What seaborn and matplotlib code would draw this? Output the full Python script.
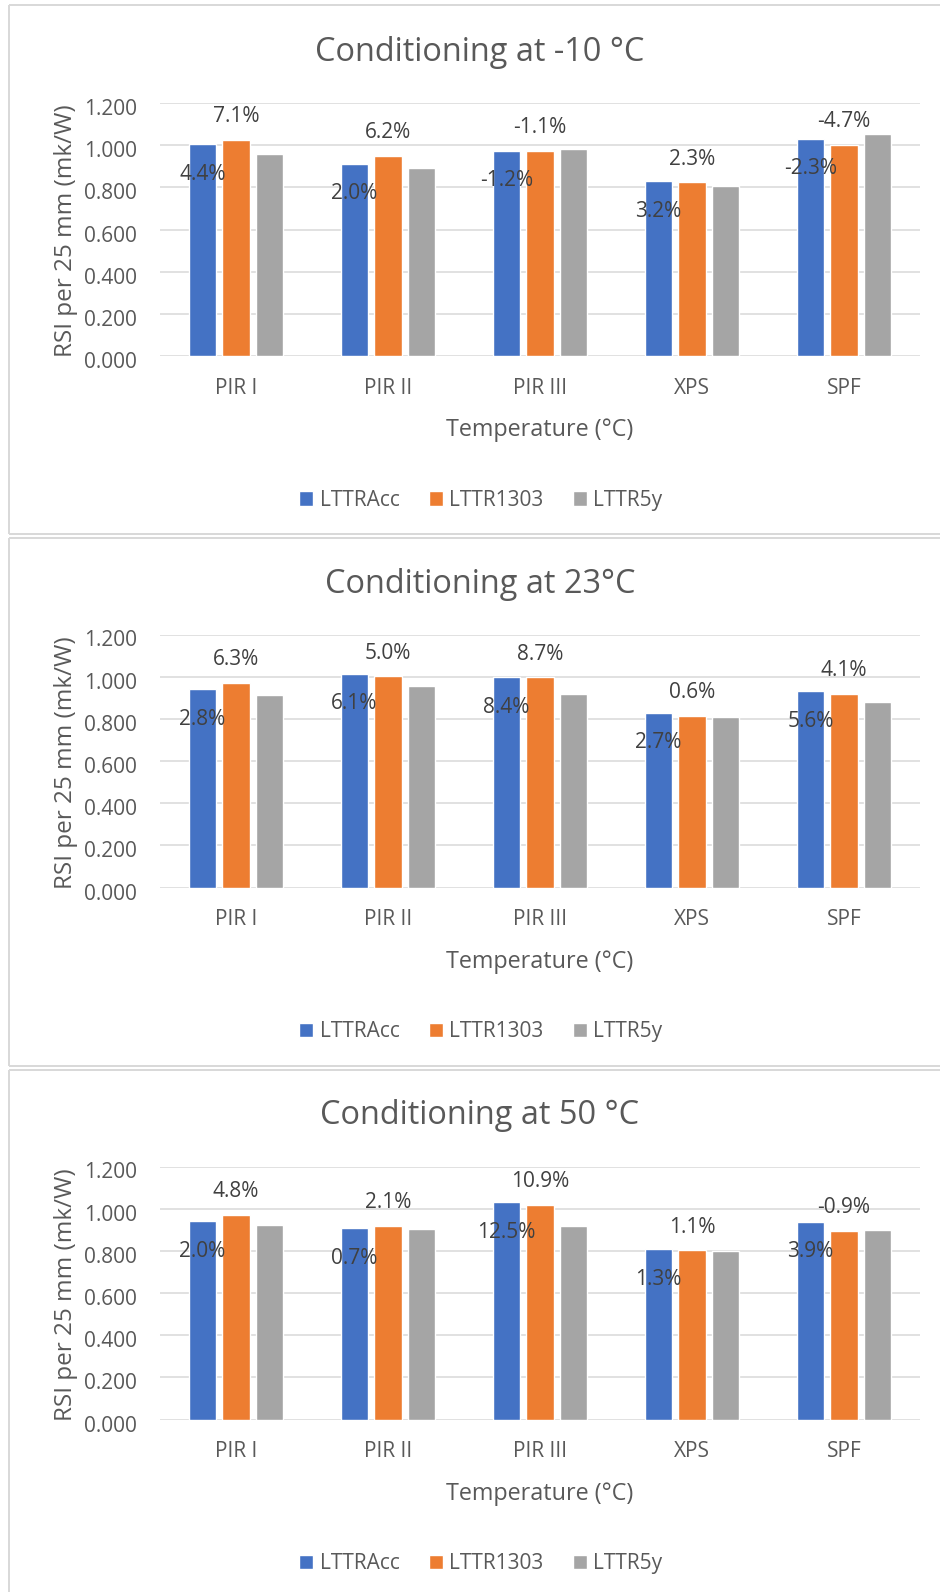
import numpy as np
import pandas as pd
import matplotlib
matplotlib.use("Agg")
import matplotlib.pyplot as plt
from matplotlib.lines import Line2D
from matplotlib.ticker import FormatStrFormatter
from matplotlib.transforms import ScaledTranslation
import seaborn as sns

# ---- data -------------------------------------------------------------
materials = ["PIR I", "PIR II", "PIR III", "XPS", "SPF"]
series = ["LTTRAcc", "LTTR1303", "LTTR5y"]
colors = ["#4472C4", "#ED7D31", "#A5A5A5"]

titles = ["Conditioning at -10 °C", "Conditioning at 23°C", "Conditioning at 50 °C"]

# RSI per 25 mm (mK/W) after conditioning at -10 °C
m10_lttracc = [1.004, 0.912, 0.973, 0.830, 1.030]
m10_lttr1303 = [1.025, 0.950, 0.973, 0.825, 1.002]
m10_lttr5y = [0.959, 0.893, 0.983, 0.807, 1.054]
m10_upper = ["7.1%", "6.2%", "-1.1%", "2.3%", "-4.7%"]
m10_lower = ["4.4%", "2.0%", "-1.2%", "3.2%", "-2.3%"]

# RSI per 25 mm (mK/W) after conditioning at 23 °C
p23_lttracc = [0.941, 1.013, 0.998, 0.829, 0.931]
p23_lttr1303 = [0.971, 1.003, 0.998, 0.814, 0.918]
p23_lttr5y = [0.913, 0.956, 0.918, 0.809, 0.880]
p23_upper = ["6.3%", "5.0%", "8.7%", "0.6%", "4.1%"]
p23_lower = ["2.8%", "6.1%", "8.4%", "2.7%", "5.6%"]

# RSI per 25 mm (mK/W) after conditioning at 50 °C
p50_lttracc = [0.941, 0.908, 1.031, 0.808, 0.938]
p50_lttr1303 = [0.970, 0.918, 1.018, 0.803, 0.895]
p50_lttr5y = [0.923, 0.903, 0.918, 0.799, 0.900]
p50_upper = ["4.8%", "2.1%", "10.9%", "1.1%", "-0.9%"]
p50_lower = ["2.0%", "0.7%", "12.5%", "1.3%", "3.9%"]

panels = [
    (titles[0], [m10_lttracc, m10_lttr1303, m10_lttr5y], m10_upper, m10_lower),
    (titles[1], [p23_lttracc, p23_lttr1303, p23_lttr5y], p23_upper, p23_lower),
    (titles[2], [p50_lttracc, p50_lttr1303, p50_lttr5y], p50_upper, p50_lower),
]

# ---- styling ----------------------------------------------------------
sns.set_style("white")
plt.rcParams["font.family"] = ["Open Sans", "DejaVu Sans"]

W, H = 940, 1592
TEXT = "#595959"
LABEL = "#404040"
GRID = "#D9D9D9"

fig = plt.figure(figsize=(W / 100, H / 100), dpi=100)
fig.patch.set_facecolor("white")


def fx(px):
    return px / W


def fy(py):
    return 1 - py / H


shifts = [0, 531.5, 1063.5]
tick_shift = ScaledTranslation(0, -4 / 100, fig.dpi_scale_trans)

for (title, values, upper, lower), sh in zip(panels, shifts):
    top = 103 + sh
    ax = fig.add_axes([fx(160), fy(top + 253), fx(760), 253 / H])

    df = pd.DataFrame({
        "Material": materials * len(series),
        "Series": np.repeat(series, len(materials)),
        "RSI": np.concatenate(values),
    })
    sns.barplot(data=df, x="Material", y="RSI", hue="Series",
                order=materials, hue_order=series, palette=colors,
                saturation=1, width=0.66, gap=0.19, errorbar=None,
                legend=False, ax=ax)

    ax.set_xlim(-0.5, len(materials) - 0.5)
    ax.set_ylim(0, 1.2)
    ax.set_yticks(np.arange(0, 1.201, 0.2))
    ax.yaxis.set_major_formatter(FormatStrFormatter("%.3f"))
    ax.grid(axis="y", color=GRID, lw=1.1)
    ax.grid(axis="x", visible=False)
    ax.set_axisbelow(True)
    for s in ax.spines.values():
        s.set_visible(False)
    ax.tick_params(axis="both", length=0, labelsize=15, labelcolor=TEXT)
    ax.tick_params(axis="x", pad=15.5)
    ax.tick_params(axis="y", pad=16.8)
    for lab in ax.get_yticklabels():
        lab.set_transform(lab.get_transform() + tick_shift)
    ax.set_xlabel("")
    ax.set_ylabel("")

    # percentage labels
    for bar, txt in zip(ax.containers[1], upper):
        ax.annotate(txt, (bar.get_x() + bar.get_width() / 2, bar.get_height()),
                    xytext=(0, 23), textcoords="offset pixels",
                    ha="center", va="center", fontsize=15, color=LABEL,
                    annotation_clip=False)
    for bar, txt in zip(ax.containers[0], lower):
        ax.annotate(txt, (bar.get_x() + bar.get_width() / 2, bar.get_height()),
                    xytext=(0, -30), textcoords="offset pixels",
                    ha="center", va="center", fontsize=15, color=LABEL,
                    annotation_clip=False)

    fig.text(fx(480), fy(61 + sh), title, ha="center", va="baseline",
             fontsize=23.4, color=TEXT)
    fig.text(fx(540), fy(436 + sh), "Temperature (°C)", ha="center",
             va="baseline", fontsize=16.8, color=TEXT)
    fig.text(fx(66), fy(231 + sh), "RSI per 25 mm (mk/W)", rotation=90,
             ha="center", va="center", fontsize=17.5, color=TEXT)

    ax.legend(handles=list(ax.containers), labels=series, loc="center",
              bbox_to_anchor=(fx(480.7), fy(500.3 + sh)),
              bbox_transform=fig.transFigure, ncol=3, frameon=False,
              fontsize=15, labelcolor=TEXT, handlelength=0.68,
              handleheight=0.68, handletextpad=0.3, columnspacing=1.4,
              borderpad=0, borderaxespad=0)

# chart-area borders
border_kw = dict(transform=fig.transFigure, color=GRID, lw=1.44,
                 solid_capstyle="butt")
frames = [(5.2, 533.7), (537.7, 1065.7), (1069.7, H + 5)]
for t, b in frames:
    fig.add_artist(Line2D([fx(9), 1.01], [fy(t), fy(t)], **border_kw))
    fig.add_artist(Line2D([fx(9), 1.01], [fy(b), fy(b)], **border_kw))
    fig.add_artist(Line2D([fx(9), fx(9)], [fy(t), fy(b)], **border_kw))

fig.savefig("out.png", dpi=100, facecolor="white")
